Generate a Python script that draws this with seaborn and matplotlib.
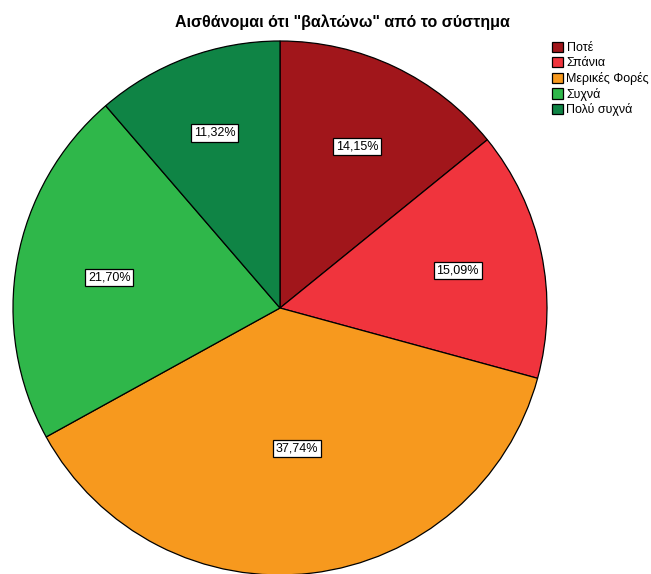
import matplotlib
matplotlib.use("Agg")
import numpy as np
import matplotlib.pyplot as plt
import seaborn as sns

sns.set_style("white")
plt.rcParams["font.family"] = ["Liberation Sans", "DejaVu Sans"]
plt.rcParams["text.color"] = "black"

categories = ["Ποτέ", "Σπάνια", "Μερικές Φορές", "Συχνά", "Πολύ συχνά"]
percentages = [14.15, 15.09, 37.74, 21.70, 11.32]
colors = ["#A1161B", "#F0343D", "#F7991E", "#2FB74A", "#0F8445"]
palette = sns.color_palette(colors)
# radial position of each percentage label, as a fraction of the radius
label_radius = [0.67, 0.68, 0.53, 0.65, 0.70]

fig = plt.figure(figsize=(6.51, 5.74), dpi=100)
fig.patch.set_facecolor("white")

cx, cy, r = 280 / 651, 1 - 308 / 574, 267
w, h = r / 651, r / 574
ax = fig.add_axes([cx - w, cy - h, 2 * w, 2 * h])

wedges, texts, autotexts = ax.pie(
    percentages,
    colors=palette,
    startangle=90,
    counterclock=False,
    radius=1,
    autopct=lambda p: f"{p:.2f}%".replace(".", ","),
    pctdistance=0.66,
    wedgeprops=dict(edgecolor="black", linewidth=0.9),
    textprops=dict(fontsize=9, color="black"),
)
for wd, t, d in zip(wedges, autotexts, label_radius):
    mid = np.deg2rad((wd.theta1 + wd.theta2) / 2)
    t.set_position((d * np.cos(mid), d * np.sin(mid)))
    t.set_bbox(dict(facecolor="white", edgecolor="black", linewidth=0.9, pad=2.0))
    wd.set_clip_on(False)

ax.set_xlim(-1, 1)
ax.set_ylim(-1, 1)
ax.set_aspect("equal")
ax.axis("off")

fig.text(342 / 651, 1 - 22 / 574, 'Αισθάνομαι ότι "βαλτώνω" από το σύστημα',
         ha="center", va="center", fontsize=11.5, fontweight="bold", color="black")

fig.legend(wedges, categories, loc="upper left",
           bbox_to_anchor=(549 / 651, 1 - 39 / 574),
           frameon=False, fontsize=9, handlelength=0.9, handleheight=0.9,
           handletextpad=0.3, labelspacing=0.22, borderpad=0.2,
           borderaxespad=0)

fig.savefig("out.png", dpi=100, facecolor="white")
